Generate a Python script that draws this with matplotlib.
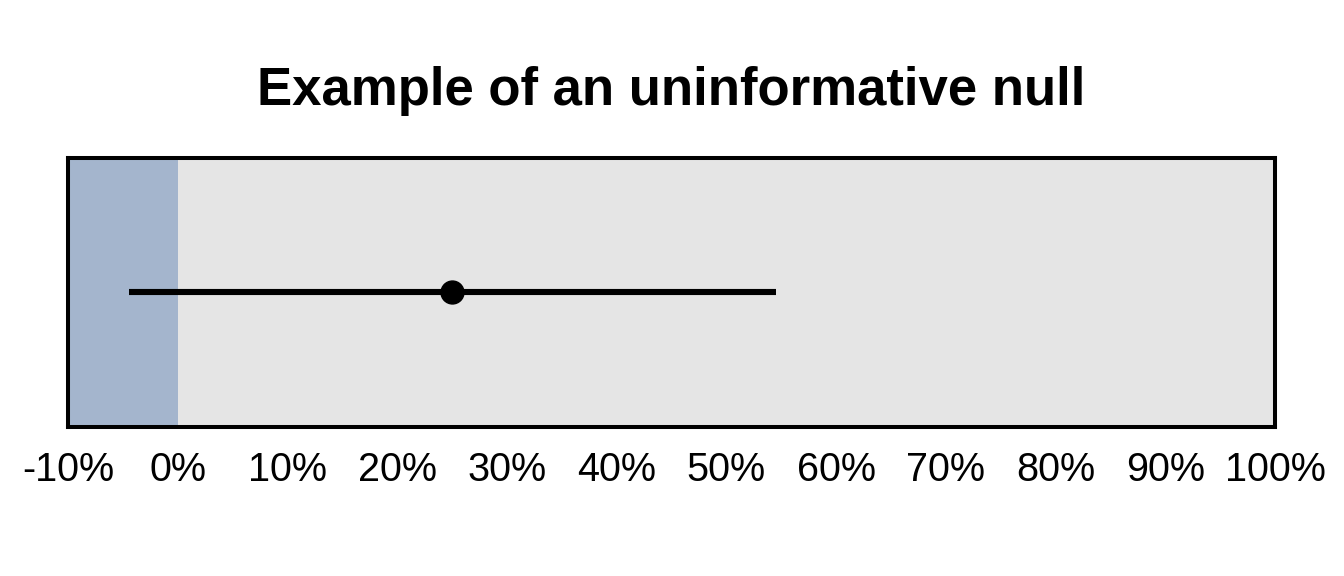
"""Uninformative null example."""
import matplotlib
matplotlib.use('Agg')
import matplotlib.pyplot as plt
from matplotlib.ticker import FuncFormatter

plt.rcParams['font.family'] = ['Liberation Sans', 'DejaVu Sans']

# data
x_limits = [-9.8, 100]
null_region = [-10, 0]
estimate = 25.0
ci = [-4.4, 54.5]
ticks = list(range(-10, 101, 10))

fig = plt.figure(figsize=(13.44, 5.76), dpi=100)
ax = fig.add_axes([0.0506, 0.2587, 0.8981, 0.467])
ax.set_facecolor('#e5e5e5')

ax.axvspan(null_region[0], null_region[1], color='#a4b5cd', lw=0)
ax.plot(ci, [0, 0], color='black', lw=4.4, solid_capstyle='butt')
ax.plot([estimate], [0], 'o', color='black', ms=16.5)

ax.set_xlim(*x_limits)
ax.set_ylim(-1, 1)
ax.set_xticks(ticks)
ax.xaxis.set_major_formatter(FuncFormatter(lambda v, p: f'{v:.0f}%'))
ax.tick_params(axis='x', length=0, pad=17, labelsize=28.5)
ax.set_yticks([])
for s in ax.spines.values():
    s.set_linewidth(2.9)
    s.set_color('black')

fig.text(0.4997, 1 - 105 / 576, 'Example of an uninformative null',
         ha='center', va='baseline', fontsize=38, fontweight='bold')

fig.savefig('out.png', dpi=100, facecolor='white')
